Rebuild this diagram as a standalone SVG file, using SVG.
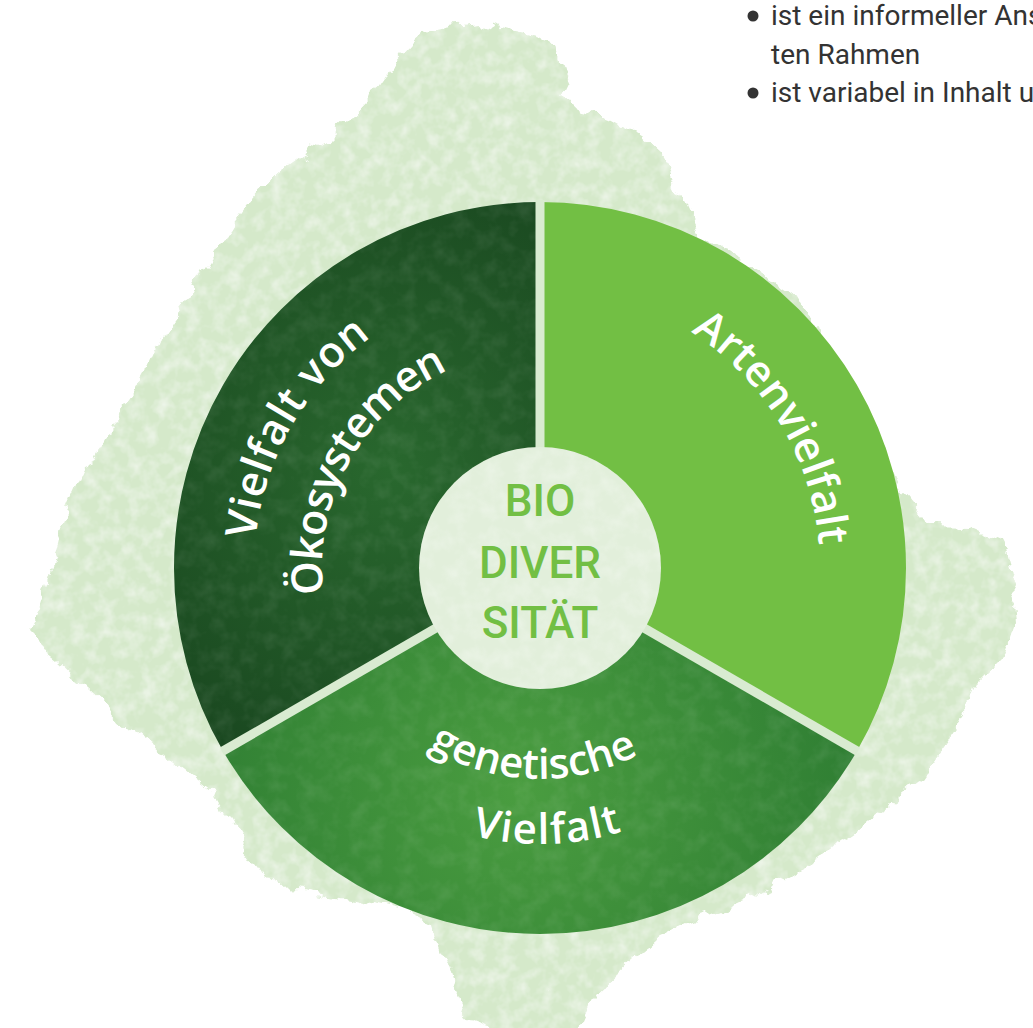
<svg xmlns="http://www.w3.org/2000/svg" width="1033" height="1028" viewBox="0 0 1033 1028">
  <style>
    .label { font-family: "Open Sans", "Noto Sans", "DejaVu Sans", sans-serif; font-weight: 650; fill: #ffffff; }
    .top { font-size: 43px; }
    .bot { font-size: 42px; }
    .core { font-family: Roboto, "Liberation Sans", sans-serif; font-weight: 500; font-size: 44px; fill: #72bf44; text-anchor: middle; }
    .note { font-family: Roboto, "Liberation Sans", sans-serif; font-weight: 400; font-size: 28px; fill: #333333; }
    .gap { stroke: #d9ebd1; stroke-width: 9; stroke-linecap: butt; fill: none; }
  </style>
  <defs>
    <filter id="blobfx" x="-5%" y="-5%" width="110%" height="110%">
      <feTurbulence type="fractalNoise" baseFrequency="0.045" numOctaves="4" seed="2" result="n"/>
      <feDisplacementMap in="SourceGraphic" in2="n" scale="20" xChannelSelector="R" yChannelSelector="G" result="d"/>
      <feTurbulence type="fractalNoise" baseFrequency="0.07" numOctaves="3" seed="9" result="s"/>
      <feColorMatrix in="s" type="matrix" values="0 0 0 0 1  0 0 0 0 1  0 0 0 0 1  1 0 0 0 -0.4" result="w"/>
      <feComposite in="w" in2="d" operator="in" result="wi"/>
      <feMerge><feMergeNode in="d"/><feMergeNode in="wi"/></feMerge>
    </filter>
    <filter id="grain" x="0" y="0" width="100%" height="100%">
      <feTurbulence type="fractalNoise" baseFrequency="0.06" numOctaves="3" seed="5" result="t"/>
      <feColorMatrix in="t" type="matrix" values="0 0 0 0 1  0 0 0 0 1  0 0 0 0 1  2 0 0 0 -0.8" result="w"/>
      <feComposite in="w" in2="SourceGraphic" operator="in"/>
    </filter>
    <radialGradient id="gDark" gradientUnits="userSpaceOnUse" cx="390" cy="470" r="320">
      <stop offset="0" stop-color="#29682e"/>
      <stop offset="1" stop-color="#1a4820"/>
    </radialGradient>
    <radialGradient id="gMid" gradientUnits="userSpaceOnUse" cx="520" cy="790" r="340">
      <stop offset="0" stop-color="#4a9d40"/>
      <stop offset="1" stop-color="#2f7e33"/>
    </radialGradient>
    <path id="pArten" d="M535.11 288.04 A280 280 0 0 1 784.89 703.75"/>
    <path id="pVon" d="M292.82 711.86 A286 286 0 0 1 539.00 282.00"/>
    <path id="pOeko" d="M352.93 679.95 A218 218 0 0 1 536.58 350.03"/>
    <path id="pGen" d="M353.70 667.06 A211 211 0 0 0 718.94 679.81"/>
    <path id="pVielfalt" d="M304.67 712.21 A276 276 0 0 0 782.55 699.70"/>
  </defs>

  <g id="background">
    <path filter="url(#blobfx)" fill="#d5e9ca" d="M481 23 L500 30 L527 36 L548 42 L556 47 L560 62 L566 80 L559 95 L568 106 L590 112 L613 120 L640 135 L659 152 L670 170 L680 192 L700 235 L800 300 L860 400 L903 490 L933 526 L970 527 L1000 540 L1007 566 L1020 587 L1012 602 L1014 620 L1001 659 L978 682 L968 711 L945 745 L922 777 L890 802 L856 830 L820 855 L791 876 L760 893 L725 909 L690 921 L659 936 L630 960 L603 985 L590 1010 L580 1033 L500 1033 L470 1022 L461 1012 L452 990 L447 972 L440 950 L432 924 L400 908 L350 897 L300 888 L277 889 L262 872 L250 856 L230 822 L211 790 L180 766 L152 744 L120 721 L99 698 L75 676 L58 660 L40 646 L26 632 L36 610 L52 560 L60 530 L72 501 L86 470 L99 448 L115 420 L132 395 L146 370 L158 343 L175 318 L191 296 L201 275 L212 257 L226 235 L244 211 L262 190 L283 171 L305 155 L329 138 L350 118 L368 99 L382 78 L395 59 L410 42 L422 31 L450 26 Z"/>
  </g>

  <g id="sector-oekosysteme">
    <path fill="url(#gDark)" d="M540 568 L223.03 751 A366 366 0 0 1 540 202 Z"/>
    <path fill="#ffffff" opacity="0.08" filter="url(#grain)" d="M540 568 L223.03 751 A366 366 0 0 1 540 202 Z"/>
    <text class="label top"><textPath href="#pVon" startOffset="50%" text-anchor="middle" textLength="240" lengthAdjust="spacing">Vielfalt von</textPath></text>
    <text class="label top"><textPath href="#pOeko" startOffset="50%" text-anchor="middle" textLength="274" lengthAdjust="spacing">Ökosystemen</textPath></text>
  </g>

  <g id="sector-arten">
    <path fill="#72bf44" d="M540 568 L540 202 A366 366 0 0 1 856.97 751 Z"/>
    <text class="label top"><textPath href="#pArten" startOffset="50%" text-anchor="middle" textLength="258" lengthAdjust="spacing">Artenvielfalt</textPath></text>
  </g>

  <g id="sector-genetisch">
    <path fill="url(#gMid)" d="M540 568 L856.97 751 A366 366 0 0 1 223.03 751 Z"/>
    <path fill="#ffffff" opacity="0.08" filter="url(#grain)" d="M540 568 L856.97 751 A366 366 0 0 1 223.03 751 Z"/>
    <text class="label bot"><textPath href="#pGen" startOffset="50%" text-anchor="middle" textLength="220" lengthAdjust="spacing">genetische</textPath></text>
    <text class="label bot"><textPath href="#pVielfalt" startOffset="50%" text-anchor="middle" textLength="152" lengthAdjust="spacing">Vielfalt</textPath></text>
  </g>

  <g id="dividers">
    <line class="gap" x1="540" y1="568" x2="540" y2="200"/>
    <line class="gap" x1="540" y1="568" x2="857.9" y2="751.5"/>
    <line class="gap" x1="540" y1="568" x2="222.1" y2="751.5"/>
  </g>

  <g id="center">
    <circle cx="540" cy="568" r="121" fill="#e2efdb"/>
    <circle cx="540" cy="568" r="121" fill="#ffffff" opacity="0.3" filter="url(#grain)"/>
    <text class="core" x="540" y="516">BIO</text>
    <text class="core" x="540" y="578">DIVER</text>
    <text class="core" x="540" y="638">SITÄT</text>
  </g>

  <g id="notes">
    <circle cx="753" cy="16" r="5.5" fill="#333333"/>
    <text class="note" x="771" y="25">ist ein informeller Ans</text>
    <text class="note" x="771" y="64">ten Rahmen</text>
    <circle cx="753" cy="93" r="5.5" fill="#333333"/>
    <text class="note" x="771" y="102">ist variabel in Inhalt u</text>
  </g>
</svg>
